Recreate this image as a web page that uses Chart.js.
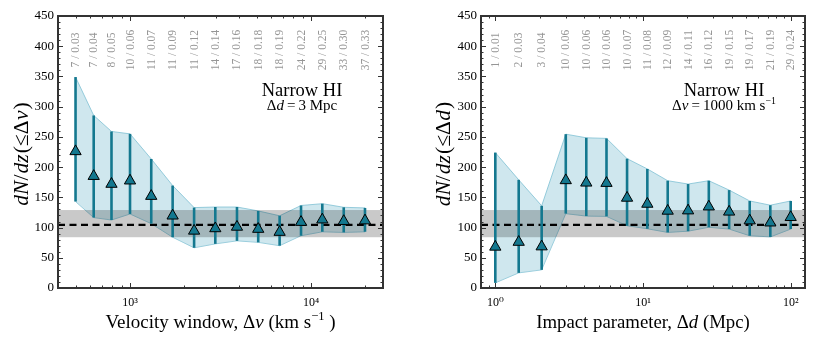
<!DOCTYPE html>
<html><head><meta charset="utf-8">
<script src="https://cdn.jsdelivr.net/npm/chart.js@4.4.0/dist/chart.umd.min.js"></script>
<style>
html,body{margin:0;padding:0;background:#fff;width:830px;height:340px;overflow:hidden}
.wrap{position:absolute;top:0;height:340px;width:415px}
canvas{display:block}
</style></head><body>
<div class="wrap" style="left:0"><canvas id="c1" width="415" height="340"></canvas></div>
<div class="wrap" style="left:415px"><canvas id="c2" width="415" height="340"></canvas></div>
<script>
// ---- Left panel: velocity window ----
const velWindow = [500, 630, 790, 1000, 1310, 1720, 2260, 2960, 3900, 5110, 6710, 8810, 11550, 15170, 19880];
const velValue  = [226, 185, 172, 177.5, 152, 119.5, 94.5, 98.5, 101, 97.5, 92.5, 109, 113, 110.5, 111.5];
const velLow    = [143, 116.5, 112.5, 122.5, 106.5, 84, 66.5, 73, 78, 75.5, 70, 86.5, 93, 92, 93];
const velHigh   = [349, 285.5, 259, 255, 213.5, 169.5, 133, 134, 134, 127.5, 119.5, 136.5, 139.5, 133.5, 132.5];
const velLabels = ["7 / 0.03","7 / 0.04","8 / 0.05","10 / 0.06","11 / 0.07","11 / 0.09","11 / 0.12","14 / 0.14","17 / 0.16","18 / 0.18","18 / 0.19","24 / 0.22","29 / 0.25","33 / 0.30","37 / 0.33"];

// ---- Right panel: impact parameter ----
const impactParam = [1, 1.44, 2.06, 3.0, 4.13, 5.66, 7.8, 10.7, 14.7, 20.2, 27.9, 38.3, 52.8, 72.8, 100];
const impValue    = [68, 76, 68.5, 178, 174, 173.5, 149, 139, 127.5, 128, 134.5, 126, 111.5, 108, 117];
const impLow      = [8.5, 25, 30, 123, 119, 118.5, 103, 98, 92, 94, 100.5, 97.5, 86.5, 84.5, 97.5];
const impHigh     = [224, 179, 136, 254.5, 248.5, 247.5, 214, 197, 177.5, 172, 177.5, 162, 144, 137, 144];
const impLabels   = ["1 / 0.01","2 / 0.03","3 / 0.04","10 / 0.06","10 / 0.06","10 / 0.06","10 / 0.07","11 / 0.08","12 / 0.09","14 / 0.11","16 / 0.12","19 / 0.15","19 / 0.17","21 / 0.19","29 / 0.24"];

// ---- shared reference level ----
const bandLow = 84, bandHigh = 129, meanLevel = 104.5;
const yMin = 0, yMax = 450, yStep = 50;

const FONT = '"Liberation Serif", "DejaVu Serif", serif';
const TEAL = '#14788f';

function fontFor(s, size){ const sz = s.sup ? size*0.66 : size; return (s.i?'italic ':'') + sz + 'px ' + FONT; }
function segW(ctx, s, size){ ctx.font=fontFor(s,size); return ctx.measureText(s.t).width + (s.sp||0)*size; }
function measureRich(ctx, segs, size){ let w=0; for(const s of segs){ w+=segW(ctx,s,size); } return w; }
function drawRich(ctx, segs, x, y, size, align){
  const w = measureRich(ctx, segs, size);
  let cx = align==='center' ? x - w/2 : x;
  ctx.textAlign='left'; ctx.textBaseline='alphabetic';
  for(const s of segs){ ctx.font=fontFor(s,size); ctx.fillText(s.t, cx, s.sup ? y - size*0.42 : y); cx += segW(ctx,s,size); }
}
const supDigits = {'0':'\u2070','1':'\u00b9','2':'\u00b2','3':'\u00b3','4':'\u2074','5':'\u2075'};

const deco = {
  id:'deco',
  beforeDatasetDraw(chart, args, o){
    if(args.index!==0) return;
    const {ctx, chartArea:a, scales:{x,y}} = chart;
    ctx.save();
    ctx.beginPath(); ctx.rect(a.left,a.top,a.right-a.left,a.bottom-a.top); ctx.clip();
    const yb1=y.getPixelForValue(bandHigh), yb0=y.getPixelForValue(bandLow);
    ctx.fillStyle='rgba(0,0,0,0.21)'; ctx.fillRect(a.left,yb1,a.right-a.left,yb0-yb1);
    const ym=y.getPixelForValue(meanLevel);
    ctx.setLineDash([7,4.5]); ctx.lineWidth=2.3; ctx.strokeStyle='#000';
    ctx.beginPath(); ctx.moveTo(a.left,ym); ctx.lineTo(a.right,ym); ctx.stroke(); ctx.setLineDash([]);
    ctx.strokeStyle=TEAL; ctx.lineWidth=2.6; ctx.lineCap='butt';
    o.xs.forEach((xv,i)=>{ const px=x.getPixelForValue(xv);
      ctx.beginPath(); ctx.moveTo(px,y.getPixelForValue(o.lo[i])); ctx.lineTo(px,y.getPixelForValue(o.hi[i])); ctx.stroke(); });
    ctx.restore();
  },
  afterDraw(chart, args, o){
    const {ctx, chartArea:a, scales:{x,y}} = chart;
    ctx.save();
    ctx.strokeStyle='#333'; ctx.lineWidth=1;
    const d0=Math.floor(Math.log10(x.min)), d1=Math.ceil(Math.log10(x.max));
    for(let d=d0; d<=d1; d++){ for(let m=1;m<=9;m++){ const v=m*Math.pow(10,d);
      if(v<x.min||v>x.max) continue; const px=Math.round(x.getPixelForValue(v))+0.5; const L=m===1?5:2.5;
      ctx.beginPath(); ctx.moveTo(px,a.bottom); ctx.lineTo(px,a.bottom-L); ctx.moveTo(px,a.top); ctx.lineTo(px,a.top+L); ctx.stroke(); } }
    for(let v=yMin; v<=yMax; v+=10){ const py=Math.round(y.getPixelForValue(v))+0.5; const L=(v%yStep===0)?5:2.5;
      ctx.beginPath(); ctx.moveTo(a.left,py); ctx.lineTo(a.left+L,py); ctx.moveTo(a.right,py); ctx.lineTo(a.right-L,py); ctx.stroke(); }
    ctx.strokeStyle='#333'; ctx.lineWidth=2;
    ctx.strokeRect(a.left,a.top,a.right-a.left,a.bottom-a.top);
    ctx.fillStyle='#959595'; ctx.font='11.5px '+FONT; ctx.textAlign='center'; ctx.textBaseline='middle';
    o.xs.forEach((xv,i)=>{ const px=x.getPixelForValue(xv); ctx.save(); ctx.translate(px+0.5, 50); ctx.rotate(-Math.PI/2); ctx.fillText(o.labels[i],0,0); ctx.restore(); });
    ctx.fillStyle='#000';
    drawRich(ctx, [{t:'Narrow HI'}], o.annX, 96, 18.5, 'center');
    drawRich(ctx, o.sub, o.annX, 110, 15, 'center');
    drawRich(ctx, o.xTitle, (a.left+a.right)/2, 328, o.xSize, 'center');
    ctx.save(); ctx.translate(o.yTitleX, (a.top+a.bottom)/2 + 2); ctx.rotate(-Math.PI/2);
    drawRich(ctx, o.yTitle, 0, 0, 21.5, 'center'); ctx.restore();
    ctx.restore();
  }
};

function makeChart(id, p){
  const pts = p.xs.map((v,i)=>({x:v, y:p.vals[i]}));
  const hiPts = p.xs.map((v,i)=>({x:v, y:p.hi[i]}));
  const loPts = p.xs.map((v,i)=>({x:v, y:p.lo[i]}));
  return new Chart(document.getElementById(id), {
    type:'line',
    data:{ datasets:[
      {data:pts, showLine:false, pointStyle:'triangle', pointRadius:6.5, pointBackgroundColor:TEAL, pointBorderColor:'#000', pointBorderWidth:1},
      {data:hiPts, fill:'+1', borderColor:'rgba(120,190,210,0.75)', borderWidth:1, backgroundColor:'rgba(160,208,222,0.5)', pointRadius:0, tension:0},
      {data:loPts, fill:false, borderColor:'rgba(120,190,210,0.75)', borderWidth:1, pointRadius:0, tension:0}
    ]},
    options:{
      responsive:false, animation:false, devicePixelRatio:1,
      layout:{padding:{left:0,right:p.rp,top:16,bottom:0}},
      plugins:{legend:{display:false}, tooltip:{enabled:false}, deco:p},
      scales:{
        x:{type:'logarithmic', min:p.xmin, max:p.xmax,
           grid:{display:false, drawTicks:false}, border:{display:false},
           ticks:{autoSkip:false, maxRotation:0, padding:8, color:'#000', font:{family:FONT,size:12},
             callback:(v)=>{ const l=Math.log10(v); const r=Math.round(l); return Math.abs(l-r)<1e-9 ? '10'+String(r).split('').map(c=>supDigits[c]).join('') : ''; }},
           afterFit:(s)=>{ s.height=52; }},
        y:{type:'linear', min:yMin, max:yMax,
           grid:{display:false, drawTicks:false}, border:{display:false},
           ticks:{stepSize:yStep, padding:4, color:'#000', font:{family:FONT,size:13}},
           afterFit:(s)=>{ s.width=p.yw; }}
      }
    },
    plugins:[deco]
  });
}

makeChart('c1', {xs:velWindow, vals:velValue, lo:velLow, hi:velHigh, labels:velLabels,
  xmin:400, xmax:25000, yw:58, rp:32, annX:302, yTitleX:28, xSize:19,
  sub:[{t:'\u0394'},{t:'d',i:true},{t:'\u2009=\u20093 Mpc'}],
  xTitle:[{t:'Velocity window, \u0394'},{t:'v',i:true},{t:' (km s'},{t:'\u22121',sup:true},{t:' )'}],
  yTitle:[{t:'dN',i:true},{t:'/',sp:0.05},{t:'dz',i:true,sp:0.05},{t:'(\u2264\u0394',sp:0.02},{t:'v',i:true,sp:0.05},{t:')'}]});
makeChart('c2', {xs:impactParam, vals:impValue, lo:impLow, hi:impHigh, labels:impLabels,
  xmin:0.8, xmax:125, yw:66, rp:25, annX:309, yTitleX:35, xSize:18.8,
  sub:[{t:'\u0394'},{t:'v',i:true},{t:'\u2009=\u20091000 km s'},{t:'\u22121',sup:true}],
  xTitle:[{t:'Impact parameter, \u0394'},{t:'d',i:true},{t:' (Mpc)'}],
  yTitle:[{t:'dN',i:true},{t:'/',sp:0.05},{t:'dz',i:true,sp:0.05},{t:'(\u2264\u0394',sp:0.02},{t:'d',i:true,sp:0.05},{t:')'}]});
</script>
</body></html>
